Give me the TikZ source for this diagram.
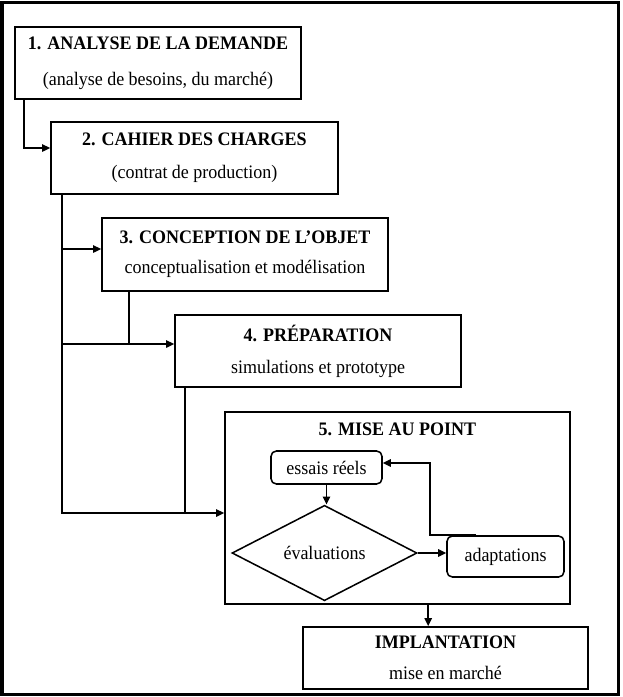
\documentclass[tikz,border=0pt]{standalone}
\usepackage{fontspec}
\usepackage{graphicx}
\setmainfont{Liberation Serif}
\usetikzlibrary{arrows.meta,shapes.geometric,calc}
\newcommand\vs[1]{\scalebox{1}[1.06]{#1}}
\tikzset{
  box/.style={draw, line width=1.25pt, inner sep=0pt, align=center, font=\fontsize{13.5}{#1}\selectfont},
  rbox/.style={draw, line width=1.15pt, rounded corners=4pt, inner sep=0pt, font=\fontsize{13.5}{16}\selectfont},
  dbox/.style={draw, line width=1.15pt, diamond, inner sep=0pt, font=\fontsize{13.5}{16}\selectfont},
  ttl/.style={inner sep=0pt, font=\fontsize{13.5}{16}\selectfont\bfseries},
  arr/.style={line width=1.2pt, -{Triangle[length=6pt,width=5.5pt]}},
  ln/.style={line width=1.2pt},
}
\begin{document}
\begin{tikzpicture}[x=0.75pt,y=-0.75pt]
\useasboundingbox (0,0) rectangle (622,697);
\draw[line width=2.3pt] (2,2.5) rectangle (618.5,694.5);

\node[box=27, minimum width=214.5pt, minimum height=54pt] (b1) at (158,63)
  {\vs{\textbf{1. ANALYSE DE LA DEMANDE}}\\\vs{(analyse de besoins, du marché)}};
\node[box=24.75, minimum width=215.25pt, minimum height=54pt] (b2) at (194.5,158)
  {\vs{\textbf{2. CAHIER DES CHARGES}}\\\vs{(contrat de production)}};
\node[box=22.5, minimum width=214.5pt, minimum height=54.75pt] (b3) at (245,254.5)
  {\vs{\textbf{3. CONCEPTION DE L’OBJET}}\\\vs{conceptualisation et modélisation}};
\node[box=24, minimum width=214.5pt, minimum height=54pt] (b4) at (318,351)
  {\vs{\textbf{4. PRÉPARATION}}\\\vs{simulations et prototype}};
\node[box=16, minimum width=258.75pt, minimum height=144pt] (b5) at (397.5,508) {};
\node[ttl] (t5) at (397.5,429) {\vs{5. MISE AU POINT}};
\node[rbox, minimum width=83.25pt, minimum height=24.75pt] (es) at (326.5,467.5) {\vs{essais réels}};
\node[dbox, minimum width=138.75pt, minimum height=66pt] (dia) at (324.5,553) {\vs{évaluations}};
\node[rbox, minimum width=87.75pt, minimum height=30.75pt] (ad) at (505.5,556.5) {\vs{adaptations}};
\node[box=23.25, minimum width=213.75pt, minimum height=46.5pt] (im) at (445.5,658)
  {\vs{\textbf{IMPLANTATION}}\\\vs{mise en marché}};

% 1 -> 2
\coordinate (s1) at ($(b1.south west)+(10,0)$);
\coordinate (j2) at ($(b2.west)+(0,-10)$);
\draw[arr] (s1) |- (j2);

% trunk
\coordinate (tr) at ($(b2.south west)+(12,0)$);
\coordinate (j3) at ($(b3.west)+(0,-5.5)$);
\coordinate (j4) at ($(b4.west)+(0,-7)$);
\coordinate (j5) at ($(b5.west)+(0,5)$);
\draw[arr] (tr) |- (j5);
\draw[arr] (tr |- j3) -- (j3);
\draw[arr] (tr |- j4) -- (j4);
\coordinate (d3) at ($(b3.south west)+(28,0)$);
\draw[ln] (d3) -- (d3 |- j4);
\coordinate (d4) at ($(b4.south west)+(11,0)$);
\draw[ln] (d4) -- (d4 |- j5);

% inside 5
\draw[arr] (es.south) -- (es.south |- dia.north);
\draw[arr] (dia.east) -- (dia.east -| ad.west);
\coordinate (f0) at ($(ad.north west)+(30,0)$);
\coordinate (fe) at ($(es.east)+(0,-4.5)$);
\coordinate (fc) at ($(fe)+(47,0)$);
\draw[arr] (f0) -| (fc) -- (fe);

% 5 -> implantation
\coordinate (s5) at ($(b5.south west)+(204,0)$);
\draw[arr] (s5) -- (s5 |- im.north);
\end{tikzpicture}
\end{document}
